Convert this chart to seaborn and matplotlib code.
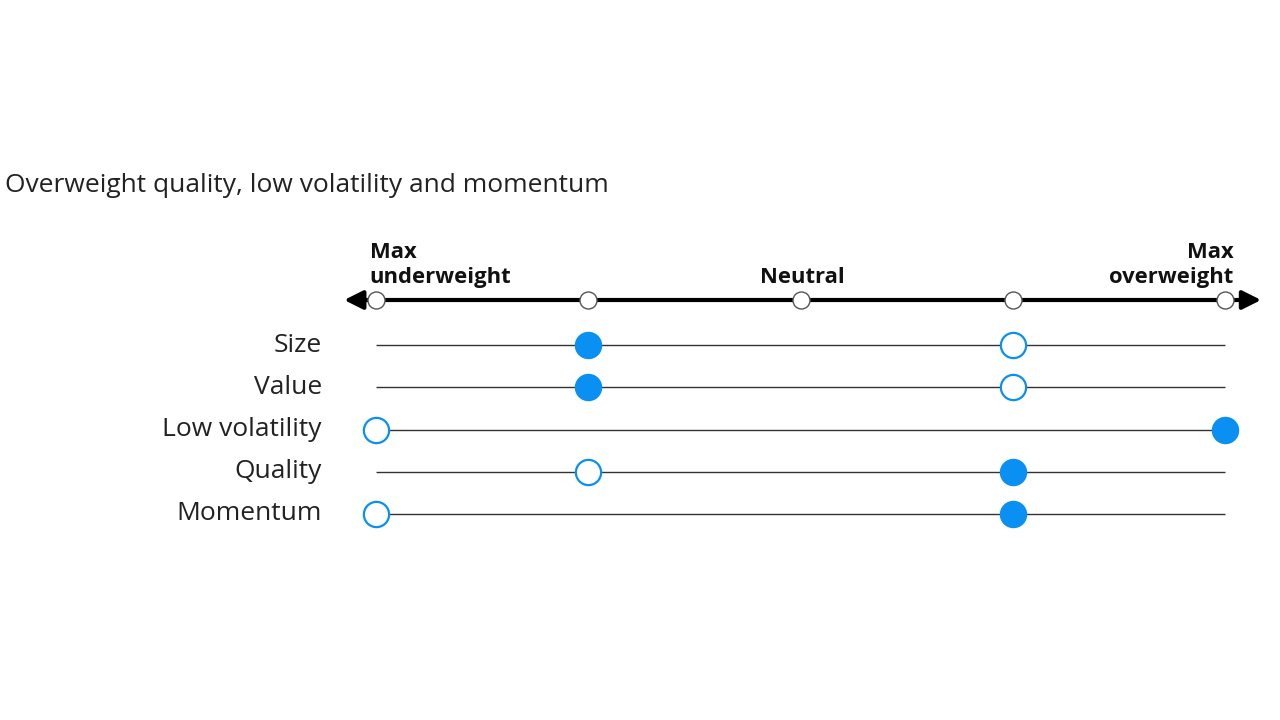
import numpy as np
import pandas as pd
import matplotlib
matplotlib.use("Agg")
import matplotlib.pyplot as plt
import seaborn as sns

# data
factors = ["Size", "Value", "Low volatility", "Quality", "Momentum"]
current = [1, 1, 4, 3, 3]   # filled circles
previous = [3, 3, 0, 1, 0]  # open circles
scale_ticks = [0, 1, 2, 3, 4]
scale_labels = ["Max\nunderweight", "Neutral", "Max\noverweight"]
title = "Overweight quality, low volatility and momentum"

BLUE = "#0a8ff2"

sns.set_theme(style="white")
plt.rcParams["font.family"] = ["Open Sans", "DejaVu Sans"]

df = pd.DataFrame({
    "factor": factors,
    "row": np.arange(len(factors)),
    "current": current,
    "previous": previous,
})

fig = plt.figure(figsize=(12.8, 7.2), dpi=100)
# axes placed so that the scale 0..4 spans the drawn track
ax = fig.add_axes([376 / 1280, 1 - 514 / 720, (1225 - 376) / 1280, (514 - 345) / 720])
ax.set_xlim(0, 4)
ax.set_ylim(4, 0)
ax.axis("off")

axis_row = -1.065

# tracks
ax.hlines(df["row"], 0, 4, color="#333333", lw=1, zorder=1, clip_on=False)

# main scale with arrows
ax.annotate("", xy=(4.17, axis_row), xytext=(-0.15, axis_row),
            arrowprops=dict(arrowstyle="<|-|>", color="black", lw=3,
                            mutation_scale=28, shrinkA=0, shrinkB=0),
            annotation_clip=False)
sns.scatterplot(x=scale_ticks, y=[axis_row] * len(scale_ticks), ax=ax,
                s=150, color="white", edgecolor="#555555", linewidth=1,
                zorder=3, clip_on=False, legend=False)

# previous (open) and current (filled)
sns.scatterplot(data=df, x="previous", y="row", ax=ax, s=330, color="white",
                edgecolor=BLUE, linewidth=1.6, zorder=3, clip_on=False, legend=False)
sns.scatterplot(data=df, x="current", y="row", ax=ax, s=330, color=BLUE,
                edgecolor=BLUE, linewidth=1.6, zorder=4, clip_on=False, legend=False)

# row labels
for r, name in zip(df["row"], df["factor"]):
    ax.text(-0.255, r, name, ha="right", va="center", fontsize=19,
            color="#222222", clip_on=False)

# scale labels
lab_y = axis_row - 0.28
ax.text(-0.03, lab_y, scale_labels[0], ha="left", va="bottom", fontsize=15.8,
        fontweight="bold", color="#111111", linespacing=1.25, clip_on=False)
ax.text(2.01, lab_y, scale_labels[1], ha="center", va="bottom", fontsize=15.8,
        fontweight="bold", color="#111111", clip_on=False)
ax.text(4.04, lab_y, scale_labels[2], ha="right", va="bottom", fontsize=15.8,
        fontweight="bold", color="#111111", linespacing=1.25, multialignment="right",
        clip_on=False)

fig.text(5 / 1280, 1 - 185 / 720, title, ha="left", va="center", fontsize=19,
         color="#222222")

fig.savefig("out.png", dpi=100, facecolor="white")
